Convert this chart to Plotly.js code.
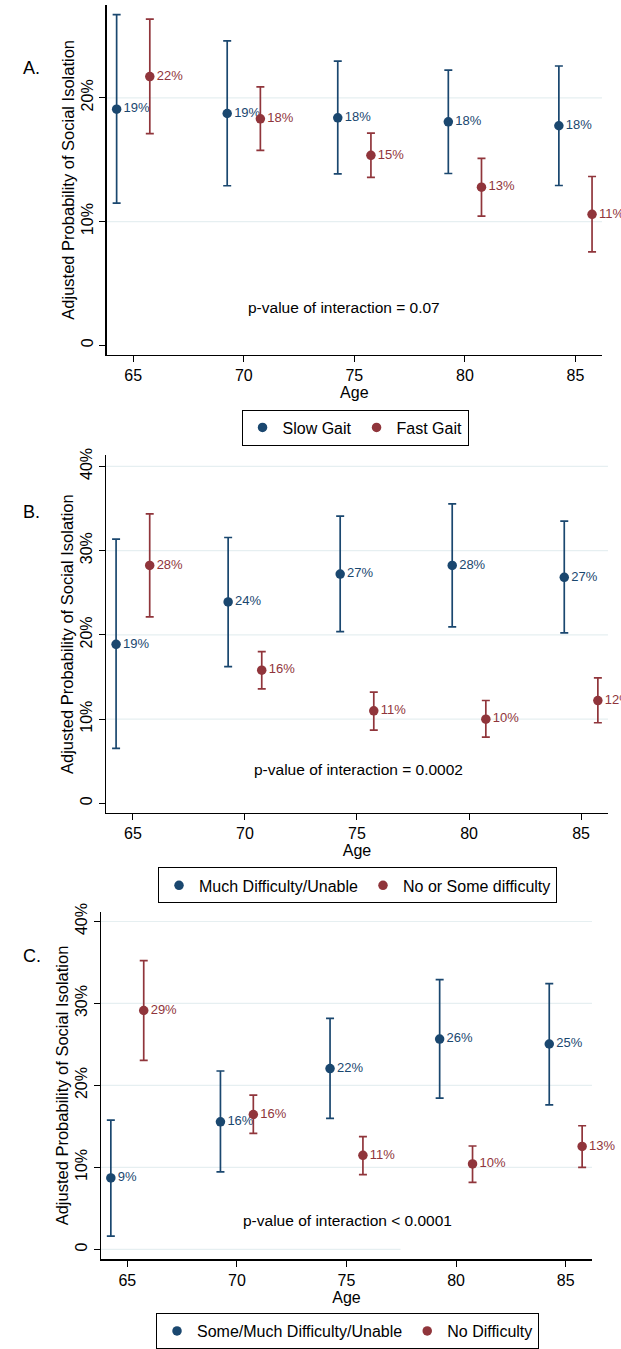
<!DOCTYPE html>
<html><head><meta charset="utf-8">
<script src="https://cdn.plot.ly/plotly-3.0.1.min.js"></script>
<style>html,body{margin:0;padding:0;background:#fff}</style>
</head><body><div id="chart" style="width:621px;height:1349px"></div>
<script>
// ---------- data ----------
const ages = [65, 70, 75, 80, 85];

// Panel A: gait speed
const A_names = ['Slow Gait', 'Fast Gait'];
const A_s1_est = [19.08, 18.73, 18.38, 18.06, 17.74];
const A_s1_lo  = [11.49, 12.89, 13.85, 13.88, 12.91];
const A_s1_hi  = [26.72, 24.60, 22.97, 22.24, 22.57];
const A_s2_est = [21.71, 18.30, 15.35, 12.78, 10.58];
const A_s2_lo  = [17.10, 15.75, 13.56, 10.44, 7.55];
const A_s2_hi  = [26.35, 20.88, 17.15, 15.11, 13.64];
const A_pval = 'p-value of interaction = 0.07';

// Panel B
const B_names = ['Much Difficulty/Unable', 'No or Some difficulty'];
const B_s1_est = [18.87, 23.90, 27.21, 28.24, 26.82];
const B_s1_lo  = [6.52, 16.23, 20.38, 20.93, 20.22];
const B_s1_hi  = [31.36, 31.55, 34.08, 35.55, 33.50];
const B_s2_est = [28.24, 15.80, 10.98, 9.99, 12.20];
const B_s2_lo  = [22.12, 13.59, 8.69, 7.86, 9.56];
const B_s2_hi  = [34.36, 18.01, 13.19, 12.20, 14.89];
const B_pval = 'p-value of interaction = 0.0002';

// Panel C
const C_names = ['Some/Much Difficulty/Unable', 'No Difficulty'];
const C_s1_est = [8.71, 15.56, 22.05, 25.65, 25.05];
const C_s1_lo  = [1.62, 9.44, 15.97, 18.44, 17.63];
const C_s1_hi  = [15.77, 21.76, 28.17, 32.91, 32.42];
const C_s2_est = [29.14, 16.45, 11.47, 10.42, 12.56];
const C_s2_lo  = [23.06, 14.14, 9.12, 8.18, 10.01];
const C_s2_hi  = [35.22, 18.81, 13.74, 12.61, 15.08];
const C_pval = 'p-value of interaction < 0.0001';

// tick labels
const xTicks = [65, 70, 75, 80, 85];
const yTicksA = [0, 10, 20];
const yTextA = ['0', '10%', '20%'];
const yTicksBC = [0, 10, 20, 30, 40];
const yTextBC = ['0', '10%', '20%', '30%', '40%'];
const panelLetters = ['A.', 'B.', 'C.'];
const yTitle = 'Adjusted Probability of Social Isolation';
const xTitle = 'Age';

// ---------- style ----------
const NAVY = '#1a476f', MAROON = '#90353b', GRID = '#e6eff1';
const FONT = 'Liberation Sans, Arial, sans-serif';
const DODGE = 0.75;

const panels = [
  {ax: '', names: A_names, s1: [A_s1_est, A_s1_lo, A_s1_hi], s2: [A_s2_est, A_s2_lo, A_s2_hi], pval: A_pval,
   xdom: [0.1718, 0.9694], ydom: [0.7361, 0.9963], yr: [-0.76, 27.5], yt: yTicksA, ytt: yTextA,
   pv: [74.55, 3.07], leg: 'legend', letterY: 0.9580},
  {ax: '2', names: B_names, s1: [B_s1_est, B_s1_lo, B_s1_hi], s2: [B_s2_est, B_s2_lo, B_s2_hi], pval: B_pval,
   xdom: [0.1707, 0.979], ydom: [0.3951, 0.6612], yr: [-1.15, 41.3], yt: yTicksBC, ytt: yTextBC,
   pv: [75.06, 4.06], leg: 'legend2', letterY: 0.6190},
  {ax: '3', names: C_names, s1: [C_s1_est, C_s1_lo, C_s1_hi], s2: [C_s2_est, C_s2_lo, C_s2_hi], pval: C_pval,
   xdom: [0.1626, 0.9533], ydom: [0.0630, 0.3217], yr: [-1.22, 41.2], yt: yTicksBC, ytt: yTextBC,
   pv: [75.04, 3.5], leg: 'legend3', letterY: 0.2800}
];

const traces = [];
const layout = {
  width: 621, height: 1349,
  margin: {l: 0, r: 0, t: 0, b: 0},
  paper_bgcolor: '#fff', plot_bgcolor: '#fff',
  font: {family: FONT, color: '#000', size: 16},
  showlegend: true,
  annotations: [], shapes: []
};
const legendPos = {legend: [0.5717, 0.6953], legend2: [0.5757, 0.3546], legend3: [0.5596, 0.0230]};

panels.forEach((p, i) => {
  const xa = 'x' + p.ax, ya = 'y' + p.ax;
  [[p.s1, NAVY, -DODGE, p.names[0]], [p.s2, MAROON, DODGE, p.names[1]]].forEach(([s, col, off, nm]) => {
    const [est, lo, hi] = s;
    traces.push({
      type: 'scatter', mode: 'markers+text', xaxis: xa, yaxis: ya,
      x: ages.map(a => a + off), y: est,
      texttemplate: '%{y:.0f}%', textposition: 'middle right',
      textfont: {size: 13, color: col, family: FONT},
      marker: {color: col, size: 9.5},
      error_y: {type: 'data', symmetric: false,
        array: hi.map((h, k) => h - est[k]), arrayminus: lo.map((l, k) => est[k] - l),
        color: col, thickness: 1.7, width: 4},
      cliponaxis: false, showlegend: false, hoverinfo: 'skip'
    });
    traces.push({
      type: 'scatter', mode: 'markers', xaxis: xa, yaxis: ya, x: [null], y: [null],
      name: nm, marker: {color: col, size: 9.5}, legend: p.leg, showlegend: true
    });
  });
  layout['xaxis' + p.ax] = {
    domain: p.xdom, anchor: ya, range: [63.8, 86.2], tickvals: xTicks,
    ticks: 'outside', ticklen: 6, tickwidth: 1, tickcolor: '#000',
    showline: true, linecolor: '#000', linewidth: 1.2, showgrid: false, zeroline: false,
    tickfont: {size: 16}, title: {text: xTitle, font: {size: 16}, standoff: 2}
  };
  layout['yaxis' + p.ax] = {
    domain: p.ydom, anchor: xa, range: p.yr, tickvals: p.yt, ticktext: p.ytt, tickangle: -90,
    ticks: 'outside', ticklen: 6, tickwidth: 1, tickcolor: '#000',
    showline: true, linecolor: '#000', linewidth: 1.2, showgrid: false, zeroline: false,
    tickfont: {size: 16}, title: {text: yTitle, font: {size: 16.5}, standoff: 0}
  };
  p.yt.filter(v => v !== 0).forEach(v => {
    layout.shapes.push({type: 'line', layer: 'below', xref: xa + ' domain', yref: ya,
      x0: 0, x1: 1, y0: v, y1: v, line: {color: GRID, width: 1.2}});
  });
  layout.annotations.push({xref: xa, yref: ya, x: p.pv[0], y: p.pv[1], text: p.pval,
    showarrow: false, font: {size: 15.5, color: '#000'}});
  layout.annotations.push({xref: 'paper', yref: 'paper', x: 0.0346, y: p.letterY, text: panelLetters[i],
    showarrow: false, font: {size: 18, color: '#000'}});
  const lp = legendPos[p.leg];
  layout[p.leg] = {x: lp[0], xanchor: 'center', y: lp[1], yanchor: 'top', orientation: 'h',
    bordercolor: '#000', borderwidth: 1, bgcolor: '#fff', font: {size: 16}, itemwidth: 30};
});
// partial baseline in panel C
layout.shapes.push({type: 'line', layer: 'below', xref: 'x3 domain', yref: 'y3',
  x0: 0, x1: 0.61, y0: 0, y1: 0, line: {color: GRID, width: 1.2}});

Plotly.newPlot('chart', traces, layout, {displayModeBar: false, staticPlot: true});
</script>
</body></html>
